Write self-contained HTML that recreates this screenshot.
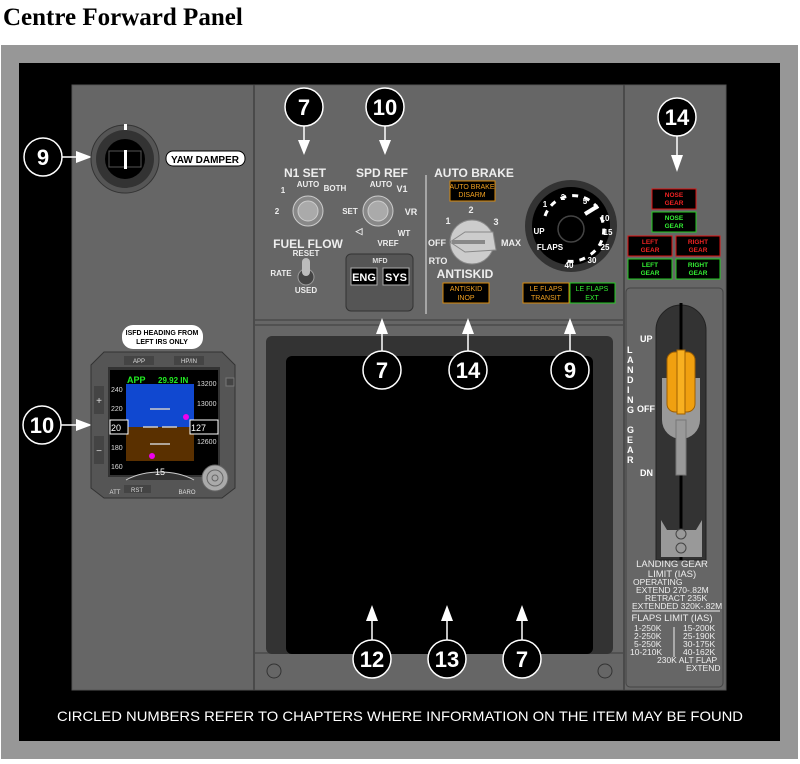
<!DOCTYPE html>
<html><head><meta charset="utf-8"><style>
html,body{margin:0;padding:0;background:#fff;width:800px;height:764px;overflow:hidden}
svg text{font-family:"Liberation Sans",sans-serif}
</style></head><body>
<svg width="800" height="764" viewBox="0 0 800 764" xmlns="http://www.w3.org/2000/svg">
<text x="3" y="25" font-weight="bold" font-size="25" fill="#000" style="font-family:'Liberation Serif',serif">Centre Forward Panel</text>
<rect x="1" y="45" width="797" height="714" fill="#979797"/>
<rect x="19" y="63" width="761" height="678" fill="#000"/>
<rect x="72" y="85" width="654" height="605" fill="#666" stroke="#555"/>
<line x1="254" y1="85" x2="254" y2="690" stroke="#4a4a4a" stroke-width="2"/>
<line x1="624" y1="85" x2="624" y2="690" stroke="#4a4a4a" stroke-width="2"/>
<line x1="254" y1="320" x2="624" y2="320" stroke="#4a4a4a" stroke-width="1.5"/>
<line x1="254" y1="325" x2="624" y2="325" stroke="#4a4a4a" stroke-width="1.5"/>
<line x1="254" y1="653" x2="624" y2="653" stroke="#4a4a4a" stroke-width="1.5"/>
<rect x="266" y="336" width="347" height="318" rx="6" fill="#333"/>
<rect x="286" y="356" width="307" height="298" rx="6" fill="#000"/>
<circle cx="274" cy="671" r="7" fill="none" stroke="#333"/>
<circle cx="605" cy="671" r="7" fill="none" stroke="#333"/>
<text x="400" y="721" fill="#fff" font-size="14" text-anchor="middle" textLength="686" lengthAdjust="spacingAndGlyphs">CIRCLED NUMBERS REFER TO CHAPTERS WHERE INFORMATION ON THE ITEM MAY BE FOUND</text>

<g stroke="#fff" stroke-width="1.5" fill="#000">
<circle cx="43" cy="157" r="19"/><circle cx="42" cy="425" r="19"/>
<circle cx="304" cy="107" r="19"/><circle cx="385" cy="107" r="19"/>
<circle cx="677" cy="117" r="19"/>
<circle cx="382" cy="370" r="19"/><circle cx="468" cy="370" r="19"/><circle cx="570" cy="370" r="19"/>
<circle cx="372" cy="659" r="19"/><circle cx="447" cy="659" r="19"/><circle cx="522" cy="659" r="19"/>
<line x1="62" y1="157" x2="76" y2="157"/><line x1="61" y1="425" x2="76" y2="425"/>
<line x1="304" y1="126" x2="304" y2="140"/><line x1="385" y1="126" x2="385" y2="140"/>
<line x1="677" y1="136" x2="677" y2="155"/>
<line x1="382" y1="351" x2="382" y2="333"/><line x1="468" y1="351" x2="468" y2="333"/><line x1="570" y1="351" x2="570" y2="333"/>
<line x1="372" y1="640" x2="372" y2="620"/><line x1="447" y1="640" x2="447" y2="620"/><line x1="522" y1="640" x2="522" y2="620"/>
</g>
<g fill="#fff">
<polygon points="76,151 92,157 76,163"/><polygon points="76,419 92,425 76,431"/>
<polygon points="298,140 310,140 304,155"/><polygon points="379,140 391,140 385,155"/>
<polygon points="671,155 683,155 677,172"/>
<polygon points="376,334 388,334 382,318"/><polygon points="462,334 474,334 468,318"/><polygon points="564,334 576,334 570,318"/>
<polygon points="366,621 378,621 372,605"/><polygon points="441,621 453,621 447,605"/><polygon points="516,621 528,621 522,605"/>
</g>
<g fill="#fff" font-weight="bold" font-size="22" text-anchor="middle">
<text x="43" y="165">9</text><text x="42" y="433">10</text><text x="304" y="115">7</text><text x="385" y="115">10</text>
<text x="677" y="125">14</text><text x="382" y="378">7</text><text x="468" y="378">14</text><text x="570" y="378">9</text>
<text x="372" y="667">12</text><text x="447" y="667">13</text><text x="522" y="667">7</text>
</g>

<circle cx="125" cy="159" r="34" fill="#555" stroke="#333"/>
<circle cx="125" cy="159" r="29" fill="#333"/>
<circle cx="125" cy="159" r="20" fill="#000"/>
<path d="M109,151 L141,151 L141,167 L109,167 Z" fill="none" stroke="#555"/>
<rect x="124" y="150" width="3" height="19" fill="#fff"/>
<rect x="124" y="124" width="3" height="6" fill="#fff"/>
<rect x="166" y="151" width="79" height="15" rx="7" fill="#fff" stroke="#000"/>
<text x="205" y="163" font-size="10" font-weight="bold" text-anchor="middle" fill="#000">YAW DAMPER</text>

<g fill="#eee" font-weight="bold" text-anchor="middle">
<text x="305" y="177" font-size="12">N1 SET</text>
<text x="382" y="177" font-size="12">SPD REF</text>
<text x="308" y="248" font-size="12">FUEL FLOW</text>
<text x="474" y="177" font-size="12">AUTO BRAKE</text>
<text x="465" y="278" font-size="12">ANTISKID</text>
<text x="308" y="187" font-size="8">AUTO</text><text x="283" y="193" font-size="8">1</text><text x="335" y="191" font-size="8">BOTH</text><text x="277" y="214" font-size="8">2</text>
<text x="381" y="187" font-size="8">AUTO</text><text x="402" y="192" font-size="9">V1</text><text x="350" y="214" font-size="8">SET</text><text x="411" y="215" font-size="9">VR</text>
<text x="404" y="236" font-size="8">WT</text><text x="388" y="246" font-size="8">VREF</text><text x="359" y="234" font-size="9">◁</text>
<text x="306" y="256" font-size="8">RESET</text><text x="281" y="276" font-size="8">RATE</text><text x="306" y="293" font-size="8">USED</text>
<text x="448" y="224" font-size="9">1</text><text x="471" y="213" font-size="9">2</text><text x="496" y="225" font-size="9">3</text>
<text x="437" y="246" font-size="9">OFF</text><text x="511" y="246" font-size="9">MAX</text><text x="438" y="264" font-size="9">RTO</text>
</g>
<g stroke="#ccc" fill="#888">
<circle cx="308" cy="211" r="15"/><circle cx="378" cy="211" r="15"/>
<circle cx="308" cy="211" r="10" fill="#aaa"/><circle cx="378" cy="211" r="10" fill="#aaa"/>
</g>
<circle cx="306" cy="277" r="8" fill="#444" stroke="#999"/>
<rect x="302" y="258" width="8" height="18" rx="4" fill="#bbb"/>
<rect x="346" y="254" width="67" height="57" rx="5" fill="#555" stroke="#333"/>
<text x="380" y="263" font-size="7" fill="#ddd" text-anchor="middle" font-weight="bold">MFD</text>
<rect x="351" y="268" width="26" height="17" fill="#000" stroke="#aaa"/><rect x="383" y="268" width="26" height="17" fill="#000" stroke="#aaa"/>
<text x="364" y="281" font-size="11" fill="#fff" font-weight="bold" text-anchor="middle">ENG</text>
<text x="396" y="281" font-size="11" fill="#fff" font-weight="bold" text-anchor="middle">SYS</text>
<line x1="426" y1="175" x2="426" y2="314" stroke="#bbb" stroke-width="1.5"/>
<circle cx="472" cy="242" r="22" fill="#ccc" stroke="#888"/>
<path d="M450,242 L465,232 L493,232 L496,250 L465,252 Z" fill="#ccc" stroke="#888"/>
<rect x="452" y="240" width="33" height="4" fill="#888"/>
<rect x="450" y="181" width="45" height="20" fill="#000" stroke="#d8890a"/>
<text x="472" y="189" font-size="7" fill="#f0a020" text-anchor="middle">AUTO BRAKE</text><text x="472" y="197" font-size="7" fill="#f0a020" text-anchor="middle">DISARM</text>
<rect x="443" y="283" width="46" height="20" fill="#000" stroke="#d8890a"/>
<text x="466" y="291" font-size="7" fill="#f0a020" text-anchor="middle">ANTISKID</text><text x="466" y="300" font-size="7" fill="#f0a020" text-anchor="middle">INOP</text>
<circle cx="571" cy="226" r="46" fill="#333"/>
<circle cx="571" cy="226" r="39" fill="#000"/>
<circle cx="571" cy="229" r="13" fill="#000" stroke="#444" stroke-width="1.5"/>
<path d="M585,214 L598,206" stroke="#fff" stroke-width="4"/>
<path d="M545,216 A30,30 0 0 1 599,210 M601,217 A30,30 0 0 1 588,256 M585,258 A30,30 0 0 1 566,261" stroke="#fff" stroke-width="3" fill="none" stroke-dasharray="6,6"/>
<g fill="#fff" font-size="8" font-weight="bold" text-anchor="middle">
<text x="545" y="207">1</text><text x="563" y="200">2</text><text x="585" y="204">5</text><text x="605" y="221">10</text><text x="608" y="235">15</text><text x="605" y="250">25</text><text x="592" y="263">30</text><text x="569" y="268">40</text><text x="539" y="234">UP</text><text x="550" y="250">FLAPS</text>
</g>
<rect x="523" y="283" width="46" height="20" fill="#000" stroke="#d8890a"/>
<text x="546" y="291" font-size="7" fill="#f0a020" text-anchor="middle">LE FLAPS</text><text x="546" y="300" font-size="7" fill="#f0a020" text-anchor="middle">TRANSIT</text>
<rect x="570" y="283" width="45" height="20" fill="#000" stroke="#2c2"/>
<text x="592" y="291" font-size="7" fill="#3e3" text-anchor="middle">LE FLAPS</text><text x="592" y="300" font-size="7" fill="#3e3" text-anchor="middle">EXT</text>

<g font-size="6.5" font-weight="bold" text-anchor="middle">
<rect x="652" y="189" width="44" height="20" fill="#000" stroke="#d11"/><text x="674" y="197" fill="#e22">NOSE</text><text x="674" y="205" fill="#e22">GEAR</text>
<rect x="652" y="212" width="44" height="20" fill="#000" stroke="#2c2"/><text x="674" y="220" fill="#3e3">NOSE</text><text x="674" y="228" fill="#3e3">GEAR</text>
<rect x="628" y="236" width="44" height="20" fill="#000" stroke="#d11"/><text x="650" y="244" fill="#e22">LEFT</text><text x="650" y="252" fill="#e22">GEAR</text>
<rect x="676" y="236" width="44" height="20" fill="#000" stroke="#d11"/><text x="698" y="244" fill="#e22">RIGHT</text><text x="698" y="252" fill="#e22">GEAR</text>
<rect x="628" y="259" width="44" height="20" fill="#000" stroke="#2c2"/><text x="650" y="267" fill="#3e3">LEFT</text><text x="650" y="275" fill="#3e3">GEAR</text>
<rect x="676" y="259" width="44" height="20" fill="#000" stroke="#2c2"/><text x="698" y="267" fill="#3e3">RIGHT</text><text x="698" y="275" fill="#3e3">GEAR</text>
</g>
<rect x="626" y="288" width="97" height="399" rx="4" fill="#666" stroke="#444"/>
<path d="M656,560 L656,330 A25,25 0 0 1 706,330 L706,560 Z" fill="#333" stroke="#222"/>
<line x1="681" y1="303" x2="681" y2="560" stroke="#000" stroke-width="3"/>
<path d="M662,378 L700,378 L700,420 A19,19 0 0 1 662,420 Z" fill="#999"/>
<rect x="676" y="420" width="10" height="55" fill="#999" stroke="#777"/>
<rect x="667" y="352" width="28" height="60" rx="8" fill="#f0a010" stroke="#a06000"/>
<rect x="677" y="350" width="8" height="64" fill="#f8b020" stroke="#a06000"/>
<path d="M661,550 L661,520 L667,530 L696,530 L702,520 L702,557 L661,557 Z" fill="#999"/>
<circle cx="681" cy="534" r="5" fill="#999" stroke="#444"/><circle cx="681" cy="548" r="5" fill="#999" stroke="#444"/>
<g fill="#fff" font-size="9" font-weight="bold">
<text x="640" y="342">UP</text><text x="637" y="412">OFF</text><text x="640" y="476">DN</text>
<text x="627" y="353">L</text><text x="627" y="363">A</text><text x="627" y="373">N</text><text x="627" y="383">D</text><text x="627" y="393">I</text><text x="627" y="403">N</text><text x="627" y="413">G</text>
<text x="627" y="433">G</text><text x="627" y="443">E</text><text x="627" y="453">A</text><text x="627" y="463">R</text>
</g>
<g fill="#eee" font-size="8.5">
<text x="672" y="567" text-anchor="middle" font-size="9.5">LANDING GEAR</text>
<text x="672" y="577" text-anchor="middle" font-size="9.5">LIMIT (IAS)</text>
<text x="633" y="585">OPERATING</text>
<text x="636" y="593">EXTEND 270-.82M</text>
<text x="645" y="601">RETRACT 235K</text>
<text x="632" y="609">EXTENDED 320K-.82M</text>
<text x="672" y="621" text-anchor="middle" font-size="9.5">FLAPS LIMIT (IAS)</text>
<text x="634" y="631">1-250K</text><text x="634" y="639">2-250K</text><text x="634" y="647">5-250K</text><text x="630" y="655">10-210K</text>
<text x="683" y="631">15-200K</text><text x="683" y="639">25-190K</text><text x="683" y="647">30-175K</text><text x="683" y="655">40-162K</text>
<text x="657" y="663">230K ALT FLAP</text><text x="686" y="671">EXTEND</text>
</g>
<line x1="632" y1="611" x2="720" y2="611" stroke="#eee"/>
<line x1="674" y1="627" x2="674" y2="657" stroke="#eee"/>

<rect x="122" y="325" width="81" height="24" rx="11" fill="#fff"/>
<text x="162" y="335" font-size="7" text-anchor="middle" font-weight="bold">ISFD HEADING FROM</text>
<text x="162" y="344" font-size="7" text-anchor="middle" font-weight="bold">LEFT IRS ONLY</text>
<path d="M104,352 L222,352 L235,365 L235,488 L222,498 L104,498 L91,488 L91,365 Z" fill="#555" stroke="#333"/>
<rect x="124" y="356" width="30" height="9" fill="#444"/><text x="139" y="363" font-size="6" fill="#ddd" text-anchor="middle">APP</text>
<rect x="174" y="356" width="30" height="9" fill="#444"/><text x="189" y="363" font-size="6" fill="#ddd" text-anchor="middle">HP/IN</text>
<rect x="94" y="386" width="10" height="28" fill="#444"/><text x="99" y="404" font-size="10" fill="#ddd" text-anchor="middle">+</text>
<rect x="94" y="436" width="10" height="28" fill="#444"/><text x="99" y="454" font-size="10" fill="#ddd" text-anchor="middle">−</text>
<rect x="108" y="367" width="112" height="110" fill="#333"/>
<rect x="110" y="370" width="108" height="105" fill="#000"/>
<rect x="126" y="384" width="68" height="43" fill="#1048d0"/>
<rect x="126" y="427" width="68" height="34" fill="#5a3000"/>
<text x="127" y="383" font-size="9" fill="#2e2" font-weight="bold">APP</text>
<text x="158" y="383" font-size="8" fill="#2e2" font-weight="bold">29.92 IN</text>
<g fill="#ddd" font-size="7"><text x="111" y="392">240</text><text x="111" y="411">220</text><text x="111" y="450">180</text><text x="111" y="469">160</text>
<text x="197" y="386">13200</text><text x="197" y="406">13000</text><text x="197" y="444">12600</text></g>
<rect x="110" y="420" width="18" height="14" fill="#000" stroke="#fff"/><text x="111" y="431" font-size="9" fill="#fff">20</text>
<rect x="190" y="420" width="28" height="14" fill="#000" stroke="#fff"/><text x="191" y="431" font-size="9" fill="#fff">127</text>
<g stroke="#ccc" stroke-width="1.5"><line x1="150" y1="409" x2="170" y2="409"/><line x1="150" y1="444" x2="170" y2="444"/><line x1="143" y1="427" x2="158" y2="427"/><line x1="162" y1="427" x2="177" y2="427"/></g>
<path d="M126,480 A50,30 0 0 1 194,480" fill="#333" stroke="#ccc"/>
<text x="160" y="475" font-size="9" fill="#fff" text-anchor="middle">15</text>
<circle cx="186" cy="417" r="3" fill="#e0e"/><circle cx="152" cy="456" r="3" fill="#e0e"/>
<circle cx="215" cy="478" r="13" fill="#aaa" stroke="#666"/><circle cx="215" cy="478" r="8" fill="none" stroke="#666"/><circle cx="215" cy="478" r="3" fill="none" stroke="#666"/>
<rect x="124" y="485" width="27" height="8" fill="#444"/><text x="137" y="492" font-size="6" fill="#ddd" text-anchor="middle">RST</text>
<text x="115" y="494" font-size="6" fill="#ddd" text-anchor="middle">ATT</text><text x="187" y="494" font-size="6" fill="#ddd" text-anchor="middle">BARO</text>
<rect x="226" y="378" width="8" height="8" fill="#444" stroke="#777"/>
</svg>
</body></html>
